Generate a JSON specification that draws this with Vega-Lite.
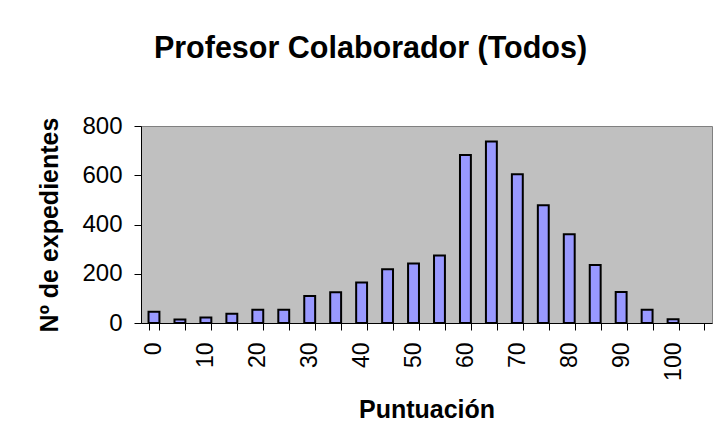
{
  "$schema": "https://vega.github.io/schema/vega-lite/v6.json",
  "width": 571,
  "height": 197,
  "autosize": {"type": "none"},
  "padding": {"left": 141, "top": 126, "right": 5, "bottom": 120},
  "background": "white",
  "title": {
    "text": "Profesor Colaborador (Todos)",
    "font": "Liberation Sans",
    "fontSize": 30.5,
    "fontWeight": "bold",
    "color": "black",
    "anchor": "middle",
    "dx": -56,
    "offset": 50
  },
  "data": {
    "values": [
      {"score": 0, "count": 46},
      {"score": 5, "count": 14},
      {"score": 10, "count": 22},
      {"score": 15, "count": 38},
      {"score": 20, "count": 54},
      {"score": 25, "count": 54},
      {"score": 30, "count": 110},
      {"score": 35, "count": 125},
      {"score": 40, "count": 164},
      {"score": 45, "count": 218},
      {"score": 50, "count": 242},
      {"score": 55, "count": 274},
      {"score": 60, "count": 682},
      {"score": 65, "count": 737},
      {"score": 70, "count": 604},
      {"score": 75, "count": 478},
      {"score": 80, "count": 360},
      {"score": 85, "count": 236},
      {"score": 90, "count": 126},
      {"score": 95, "count": 54},
      {"score": 100, "count": 15}
    ]
  },
  "mark": {"type": "bar", "fill": "#9999FF", "stroke": "black", "strokeWidth": 2},
  "encoding": {
    "x": {
      "field": "score",
      "type": "ordinal",
      "sort": null,
      "scale": {
        "domain": [0, 5, 10, 15, 20, 25, 30, 35, 40, 45, 50, 55, 60, 65, 70, 75, 80, 85, 90, 95, 100, 105],
        "paddingInner": 0.58,
        "paddingOuter": 0.29
      },
      "axis": {
        "title": "Puntuación",
        "titleFont": "Liberation Sans",
        "titleFontSize": 25,
        "titleFontWeight": "bold",
        "titleColor": "black",
        "titlePadding": 17,
        "labelFont": "Liberation Sans",
        "labelFontSize": 23,
        "labelColor": "black",
        "labelAngle": -90,
        "labelPadding": 12,
        "labelOverlap": false,
        "labelExpr": "datum.value % 10 == 0 ? datum.label : ''",
        "tickBand": "extent",
        "tickSize": 7,
        "tickColor": "black",
        "domainColor": "black",
        "grid": false
      }
    },
    "y": {
      "field": "count",
      "type": "quantitative",
      "scale": {"domain": [0, 800], "nice": false},
      "axis": {
        "title": "Nº de expedientes",
        "titleFont": "Liberation Sans",
        "titleFontSize": 25,
        "titleFontWeight": "bold",
        "titleColor": "black",
        "titlePadding": 19,
        "labelFont": "Liberation Sans",
        "labelFontSize": 24,
        "labelColor": "black",
        "labelPadding": 12,
        "values": [0, 200, 400, 600, 800],
        "tickSize": 7,
        "tickColor": "black",
        "domainColor": "black",
        "grid": false
      }
    }
  },
  "config": {
    "view": {"fill": "#C0C0C0", "stroke": "#808080", "strokeWidth": 1}
  }
}
